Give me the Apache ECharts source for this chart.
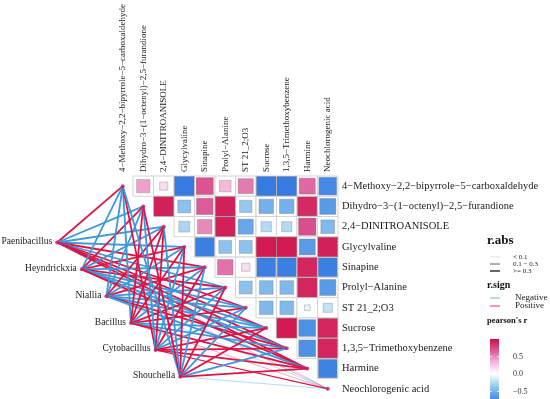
<!DOCTYPE html>
<html><head><meta charset="utf-8">
<script src="https://cdn.jsdelivr.net/npm/echarts@6/dist/echarts.min.js"></script>
<style>html,body{margin:0;padding:0;background:#fff}#c{width:550px;height:399px}</style>
</head><body><div id="c"></div>
<script>
// ---------------- data ----------------
const metabolites = [
  '4\u2212Methoxy\u22122,2\u2212bipyrrole\u22125\u2212carboxaldehyde',
  'Dihydro\u22123\u2212(1\u2212octenyl)\u22122,5\u2212furandione',
  '2,4\u2212DINITROANISOLE',
  'Glycylvaline',
  'Sinapine',
  'Prolyl\u2212Alanine',
  'ST 21_2;O3',
  'Sucrose',
  '1,3,5\u2212Trimethoxybenzene',
  'Harmine',
  'Neochlorogenic acid'
];
const bacteria = ['Paenibacillus','Heyndrickxia','Niallia','Bacillus','Cytobacillus','Shouchella'];
// upper triangle (without diagonal): row i holds r with metabolites i+1 .. 10
const corrRows = [
  [0.42, 0.16, -0.9, 0.7, 0.32, 0.55, -0.9, -0.9, 0.62, -0.75],
  [0.92, -0.4, 0.66, 0.92, -0.36, -0.5, -0.5, 0.88, -0.62],
  [-0.28, 0.5, 0.92, -0.55, -0.25, -0.25, 0.72, -0.45],
  [-0.85, -0.4, -0.4, 0.95, 0.95, -0.62, 0.92],
  [0.58, 0.16, -0.85, -0.85, 0.9, -0.85],
  [-0.4, -0.45, -0.45, 0.9, -0.62],
  [-0.45, -0.45, -0.08, -0.2],
  [0.95, -0.68, 0.9],
  [-0.68, 0.9],
  [-0.82]
];
// bacteria x metabolites link statistics (sign -> colour, |r| -> width)
const linkR = [
  [ 0.45, -0.4, -0.35, -0.4,  0.4, -0.35,  0.35,  0.4,  0.4,  0.35, -0.05],
  [-0.4,  0.45, -0.35,  0.35, -0.4,  0.4, -0.35, -0.4, -0.35,  0.4,  0.05],
  [-0.4, -0.35,  0.4, -0.4,  0.35, -0.4, -0.35, -0.35,  0.35, -0.35, -0.05],
  [-0.35, 0.4,  0.4,  0.35, -0.4,  0.35,  0.4, -0.35, -0.4,  0.45,  0.08],
  [ 0.35, -0.4, 0.35, -0.35,  0.4, -0.35, -0.4,  0.4,  0.35,  0.4,  0.2],
  [-0.35, 0.4, -0.4,  0.45, -0.35,  0.4, -0.35,  0.4, -0.35,  0.45, -0.05]
];
const colorTicks = [0.5, 0.0, -0.5];
const colorTickLabels = ['0.5', '0.0', '\u22120.5'];
const absBreaks = ['< 0.1', '0.1 \u2212 0.3', '>= 0.3'];
const signNames = ['Negative', 'Positive'];

// ---------------- layout ----------------
const FONT = '"Liberation Serif", "Times New Roman", serif';
const GRID = {left: 10, top: 176, width: 328, height: 224.4};
const NODE0 = [-3.2, 2.78], NODE_STEP = [1.2, 1.325];
const RED = '#dc1446', BLUE = '#3d98dc';
const PALETTE = ['#2b6fe0', '#4f93e6', '#9ccdf0', '#ffffff', '#f4b8dc', '#dc5a98', '#cf0f45'];
const BAR = {x: 490, y: 339, w: 9, h: 70};
function widthOf(a){ return a < 0.1 ? 0.6 : (a < 0.3 ? 1.1 : 1.8); }

const cellData = [];
corrRows.forEach((row, i) => row.forEach((v, k) => cellData.push([i + 1 + k, i, v])));
const nodePos = bacteria.map((b, k) => [NODE0[0] + k * NODE_STEP[0], NODE0[1] + k * NODE_STEP[1]]);
const linkData = [];
linkR.forEach((row, b) => row.forEach((v, m) => {
  linkData.push({coords: [nodePos[b], [m, m]], lineStyle: {color: v >= 0 ? RED : BLUE, width: widthOf(Math.abs(v)), opacity: Math.abs(v) < 0.1 ? 0.6 : 1}});
}));
const nodeData = nodePos.concat(metabolites.map((m, i) => [i, i]));

// colour bar legend (graphic) built from the same palette
const barStops = PALETTE.map((c, i) => ({offset: 1 - i / (PALETTE.length - 1), color: c}));
const legendGraphic = [
  {type: 'text', x: 487, y: 234, style: {text: 'r.abs', font: 'bold 13px ' + FONT, fill: '#111'}},
  {type: 'line', shape: {x1: 490, y1: 257, x2: 500, y2: 257}, style: {stroke: '#cfcfcf', lineWidth: 0.6}},
  {type: 'line', shape: {x1: 490, y1: 264, x2: 500, y2: 264}, style: {stroke: '#6f6f6f', lineWidth: 1.1}},
  {type: 'line', shape: {x1: 490, y1: 271, x2: 500, y2: 271}, style: {stroke: '#555', lineWidth: 1.8}},
  {type: 'text', x: 513, y: 257, style: {text: absBreaks[0], font: '7px ' + FONT, fill: '#222', verticalAlign: 'middle'}},
  {type: 'text', x: 513, y: 264, style: {text: absBreaks[1], font: '7px ' + FONT, fill: '#222', verticalAlign: 'middle'}},
  {type: 'text', x: 513, y: 271, style: {text: absBreaks[2], font: '7px ' + FONT, fill: '#222', verticalAlign: 'middle'}},
  {type: 'text', x: 487, y: 280, style: {text: 'r.sign', font: 'bold 10px ' + FONT, fill: '#111'}},
  {type: 'line', shape: {x1: 490, y1: 298, x2: 500, y2: 298}, style: {stroke: '#85c2ec', lineWidth: 1.2}},
  {type: 'line', shape: {x1: 490, y1: 306, x2: 500, y2: 306}, style: {stroke: '#e8557a', lineWidth: 1.2}},
  {type: 'text', x: 515, y: 298, style: {text: signNames[0], font: '9px ' + FONT, fill: '#222', verticalAlign: 'middle'}},
  {type: 'text', x: 515, y: 306, style: {text: signNames[1], font: '9px ' + FONT, fill: '#222', verticalAlign: 'middle'}},
  {type: 'text', x: 487, y: 316, style: {text: "pearson's r", font: 'bold 8.5px ' + FONT, fill: '#111'}},
  {type: 'rect', shape: {x: BAR.x, y: BAR.y, width: BAR.w, height: BAR.h},
   style: {fill: new echarts.graphic.LinearGradient(0, 0, 0, 1, barStops)}}
];
colorTicks.forEach((v, i) => {
  const y = BAR.y + (1 - v) / 2 * BAR.h;
  legendGraphic.push({type: 'line', shape: {x1: BAR.x, y1: y, x2: BAR.x + 2, y2: y}, style: {stroke: '#fff', lineWidth: 0.8}});
  legendGraphic.push({type: 'line', shape: {x1: BAR.x + BAR.w - 2, y1: y, x2: BAR.x + BAR.w, y2: y}, style: {stroke: '#fff', lineWidth: 0.8}});
  legendGraphic.push({type: 'text', x: 513, y: y, style: {text: colorTickLabels[i], font: '8px ' + FONT, fill: '#333', verticalAlign: 'middle'}});
});

const chart = echarts.init(document.getElementById('c'), null, {renderer: 'canvas'});
chart.setOption({
  animation: false,
  grid: GRID,
  xAxis: {type: 'value', min: -5.5, max: 10.5, show: false},
  yAxis: {type: 'value', min: -0.5, max: 10.5, inverse: true, show: false},
  visualMap: {
    type: 'continuous', min: -1, max: 1, dimension: 2, seriesIndex: 1, show: false,
    inRange: {color: PALETTE}
  },
  series: [
    { type: 'custom', coordinateSystem: 'cartesian2d', data: cellData, encode: {x: 0, y: 1}, z: 1,
      renderItem: (params, api) => {
        const c = api.coord([api.value(0), api.value(1)]);
        const s = api.size([1, 1]);
        return {type: 'rect', shape: {x: c[0] - s[0] / 2, y: c[1] - s[1] / 2, width: s[0], height: s[1]},
                style: {fill: '#ffffff', stroke: '#d4d4d4', lineWidth: 1}};
      }
    },
    { type: 'custom', coordinateSystem: 'cartesian2d', data: cellData, encode: {x: 0, y: 1}, z: 2,
      renderItem: (params, api) => {
        const c = api.coord([api.value(0), api.value(1)]);
        const s = api.size([1, 1]);
        const f = Math.sqrt(Math.abs(api.value(2)));
        const w = s[0] * f, h = s[1] * f;
        return {type: 'rect', shape: {x: c[0] - w / 2, y: c[1] - h / 2, width: w, height: h},
                style: {fill: api.visual('color'), stroke: 'rgba(110,110,110,0.55)', lineWidth: 0.6}};
      }
    },
    { type: 'lines', coordinateSystem: 'cartesian2d', data: linkData, z: 3, silent: true },
    { type: 'scatter', data: nodeData, symbolSize: 4, z: 4, itemStyle: {color: '#c41f5c'} },
    { type: 'custom', coordinateSystem: 'cartesian2d', z: 5, silent: true,
      data: metabolites.map((m, i) => [i, i]), encode: {x: 0, y: 1},
      renderItem: (params, api) => {
        const i = params.dataIndex;
        const top = api.coord([i, -0.5]);
        const right = api.coord([10.5, i]);
        return {type: 'group', children: [
          {type: 'text', x: top[0], y: top[1] - 4, rotation: Math.PI / 2,
           style: {text: metabolites[i], fill: '#1a1a1a', font: '9px ' + FONT, align: 'left', verticalAlign: 'middle'}},
          {type: 'text', x: right[0] + 4, y: right[1],
           style: {text: metabolites[i], fill: '#1a1a1a', font: '10.5px ' + FONT, align: 'left', verticalAlign: 'middle'}}
        ]};
      }
    },
    { type: 'custom', coordinateSystem: 'cartesian2d', z: 5, silent: true,
      data: nodePos, encode: {x: 0, y: 1},
      renderItem: (params, api) => {
        const p = api.coord([api.value(0), api.value(1)]);
        return {type: 'text', x: p[0] - 5, y: p[1] - 1,
                style: {text: bacteria[params.dataIndex], fill: '#1a1a1a', font: '9.5px ' + FONT, align: 'right', verticalAlign: 'middle'}};
      }
    }
  ],
  graphic: legendGraphic
});
</script></body></html>
